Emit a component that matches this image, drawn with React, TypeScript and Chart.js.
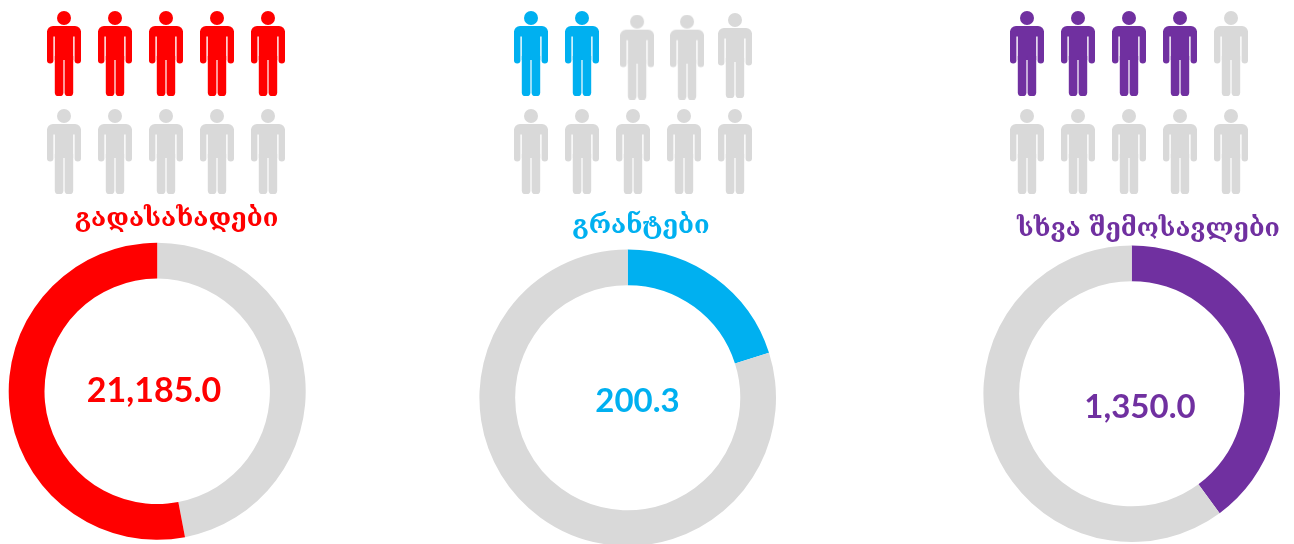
import React, { useEffect, useRef } from "react";
import { Chart, registerables } from "chart.js";

Chart.register(...registerables);

// ---- data ----
const categories = ["გადასახადები", "გრანტები", "სხვა შემოსავლები"];
const amounts = [21185.0, 200.3, 1350.0];
const filledPeople = [5, 2, 4];
const peopleColumns = [1, 2, 3, 4, 5];
const peopleRows = [1, 2];
const highlightedShare = [53, 20.1, 39.9];
const remainingShare = [47, 79.9, 60.1];

// ---- styles and layout ----
const colours = ["#FF0000", "#00B0F0", "#7030A0"];
const grey = "#D9D9D9";
const W = 1294;
const H = 544;
const COL_PX = 51;
const ROW_PX = 98;
const FIRST_ROW_Y = 53.5;
const layout = [
  { firstCol: 64, titleX: 176.5, titleY: 220, titleSize: 25.5, cx: 157.2, cy: 391.3, r: 148.5, valueX: 154, valueBase: 401.7, valueSize: 34, nudgeX: [0, 0, 0, 0, 0], nudgeY: [0, 0, 0, 0, 0] },
  { firstCol: 531, titleX: 641, titleY: 227, titleSize: 25.5, cx: 627.7, cy: 397.7, r: 148.3, valueX: 637.5, valueBase: 412, valueSize: 33, nudgeX: [0, 0, 0.08, 0.06, 0], nudgeY: [0, 0, 0.037, 0.037, 0.02] },
  { firstCol: 1027, titleX: 1148.5, titleY: 229, titleSize: 25, cx: 1131.7, cy: 393.7, r: 148.3, valueX: 1140, valueBase: 417.7, valueSize: 33, nudgeX: [0, 0, 0, 0, 0], nudgeY: [0, 0, 0, 0, 0] },
];
const TITLE_FONT = "'DejaVu Serif', 'DejaVu Sans', serif";
const VALUE_FONT = "Lato, 'Open Sans', sans-serif";

function personImage(colour: string) {
  const c = document.createElement("canvas");
  c.width = 34;
  c.height = 85;
  const g = c.getContext("2d")!;
  g.fillStyle = colour;
  g.beginPath();
  g.arc(17, 7, 7, 0, Math.PI * 2);
  g.fill();
  const part = (x: number, y: number, w: number, h: number, r: number[]) => {
    g.beginPath();
    g.roundRect(x, y, w, h, r);
    g.fill();
  };
  part(0, 15, 34, 10.5, [6, 6, 0, 0]);
  part(0, 20, 6.4, 32.5, [0, 0, 3.2, 3.2]);
  part(27.6, 20, 6.4, 32.5, [0, 0, 3.2, 3.2]);
  part(7.8, 15, 18.4, 34, [0]);
  part(7.8, 45, 8.6, 40, [0, 0, 3.6, 3.6]);
  part(17.6, 45, 8.6, 40, [0, 0, 3.6, 3.6]);
  return c;
}

function formatAmount(v: number) {
  return v.toLocaleString("en-US", { minimumFractionDigits: 1, maximumFractionDigits: 1 });
}

function place(canvas: HTMLCanvasElement, left: number, top: number, width: number, height: number) {
  canvas.width = width;
  canvas.height = height;
  canvas.style.position = "absolute";
  canvas.style.left = left + "px";
  canvas.style.top = top + "px";
  canvas.style.width = width + "px";
  canvas.style.height = height + "px";
}

export default function App() {
  const rootRef = useRef<HTMLDivElement>(null);

  useEffect(() => {
    const root = rootRef.current!;
    document.body.style.background = "#fff";
    const charts: Chart[] = [];
    const canvases: HTMLCanvasElement[] = [];

    categories.forEach((name, i) => {
      const L = layout[i];
      const colour = colours[i];

      // Pictogram with the category title underneath it
      const pict = document.createElement("canvas");
      root.appendChild(pict);
      canvases.push(pict);
      const lineH = L.titleSize * 1.2;
      const halfW = Math.min(L.titleX, W - L.titleX);
      const pW = Math.round(halfW * 2);
      const pLeft = Math.round(L.titleX - pW / 2);
      const pH = Math.round(L.titleY + lineH / 2);
      const areaH = pH - lineH;
      place(pict, pLeft, 0, pW, pH);

      const xMin = 1 - (L.firstCol - pLeft) / COL_PX;
      const yMin = 1 - FIRST_ROW_Y / ROW_PX;

      const people: { x: number; y: number }[] = [];
      peopleRows.forEach((row) => {
        peopleColumns.forEach((col, k) => {
          people.push({
            x: col + (row === 1 ? L.nudgeX[k] : 0),
            y: row + (row === 1 ? L.nudgeY[k] : 0),
          });
        });
      });
      const pointBase = { showLine: false, pointRadius: 20, pointHoverRadius: 20, clip: false as const };

      charts.push(
        new Chart(pict, {
          type: "scatter",
          data: {
            datasets: [
              { label: name, data: people.slice(0, filledPeople[i]), pointStyle: personImage(colour), ...pointBase },
              { label: "rest", data: people.slice(filledPeople[i]), pointStyle: personImage(grey), ...pointBase },
            ],
          },
          options: {
            responsive: false,
            animation: false,
            layout: { autoPadding: false, padding: 0 },
            events: [],
            scales: {
              x: { type: "linear", display: false, min: xMin, max: xMin + pW / COL_PX },
              y: { type: "linear", display: false, reverse: true, min: yMin, max: yMin + areaH / ROW_PX },
            },
            plugins: {
              legend: { display: false },
              tooltip: { enabled: false },
              title: {
                display: true,
                text: name,
                position: "bottom",
                color: colour,
                padding: 0,
                font: { family: TITLE_FONT, size: L.titleSize, weight: "bold", lineHeight: 1.2 },
              },
            },
          },
        })
      );

      // Doughnut with the amount inside it
      const ring = document.createElement("canvas");
      root.appendChild(ring);
      canvases.push(ring);
      const rLeft = Math.floor(L.cx - L.r) - 2;
      const rTop = Math.floor(L.cy - L.r) - 2;
      const rRight = Math.ceil(L.cx + L.r) + 2;
      const rBottom = Math.ceil(L.cy + L.r) + 2;
      place(ring, rLeft, rTop, rRight - rLeft, rBottom - rTop);

      const valuePlugin = {
        id: "centreValue",
        afterDatasetsDraw(chart: Chart) {
          const g = chart.ctx;
          g.save();
          g.font = `bold ${L.valueSize}px ${VALUE_FONT}`;
          g.fillStyle = colour;
          g.textAlign = "center";
          g.textBaseline = "alphabetic";
          g.fillText(formatAmount(amounts[i]), L.valueX - rLeft, L.valueBase - rTop);
          g.restore();
        },
      };

      const greyFirst = i === 0;
      const values = greyFirst
        ? [remainingShare[i], highlightedShare[i]]
        : [highlightedShare[i], remainingShare[i]];
      const fills = greyFirst ? [grey, colour] : [colour, grey];

      charts.push(
        new Chart(ring, {
          type: "doughnut",
          data: {
            labels: greyFirst ? ["rest", name] : [name, "rest"],
            datasets: [{ data: values, backgroundColor: fills, borderWidth: 0 }],
          },
          options: {
            responsive: false,
            animation: false,
            cutout: "75.9%",
            events: [],
            layout: {
              padding: {
                left: L.cx - L.r - rLeft,
                top: L.cy - L.r - rTop,
                right: rRight - (L.cx + L.r),
                bottom: rBottom - (L.cy + L.r),
              },
            },
            plugins: { legend: { display: false }, tooltip: { enabled: false } },
          },
          plugins: [valuePlugin],
        })
      );
    });

    return () => {
      charts.forEach((c) => c.destroy());
      canvases.forEach((c) => c.remove());
    };
  }, []);

  return (
    <div
      ref={rootRef}
      style={{ position: "absolute", left: 0, top: 0, width: W, height: H, overflow: "hidden", background: "#fff" }}
    />
  );
}
